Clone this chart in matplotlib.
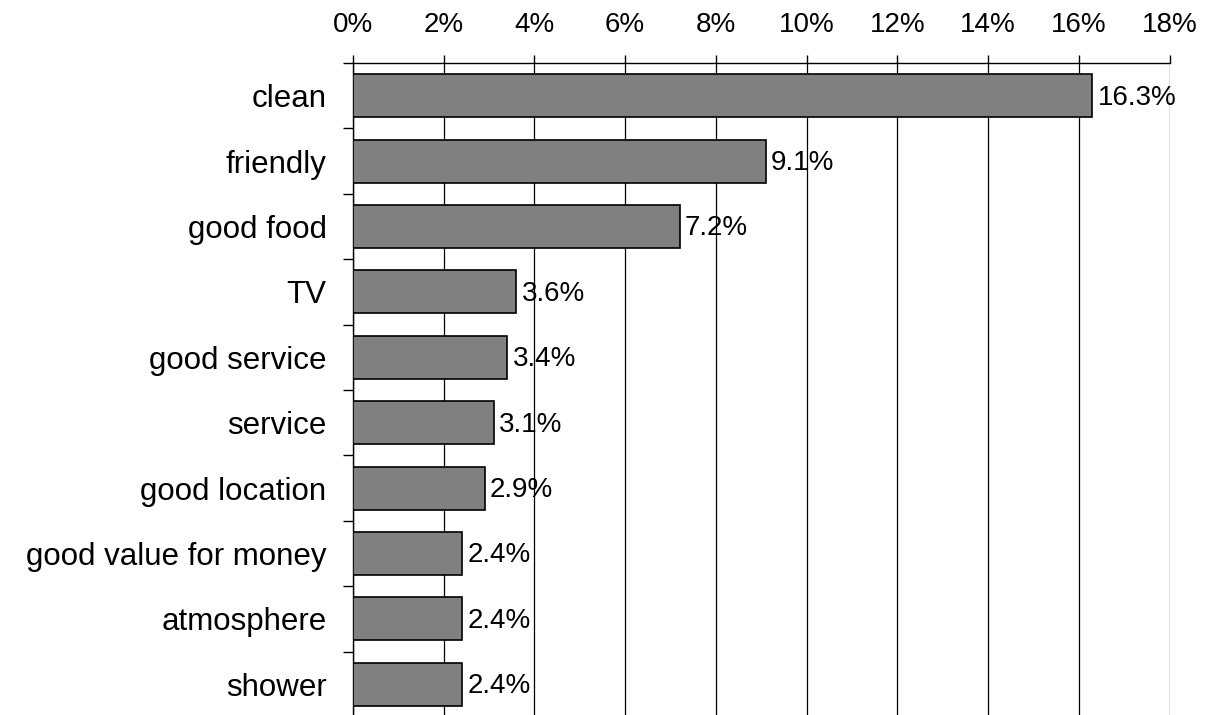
import matplotlib
matplotlib.use("Agg")
import matplotlib.pyplot as plt
from matplotlib.ticker import FixedLocator, PercentFormatter

categories = ["clean", "friendly", "good food", "TV", "good service", "service",
              "good location", "good value for money", "atmosphere", "shower"]
values = [16.3, 9.1, 7.2, 3.6, 3.4, 3.1, 2.9, 2.4, 2.4, 2.4]
value_labels = ["16.3%", "9.1%", "7.2%", "3.6%", "3.4%", "3.1%", "2.9%", "2.4%", "2.4%", "2.4%"]
x_ticks = [0, 2, 4, 6, 8, 10, 12, 14, 16, 18]

plt.rcParams['font.family'] = ['Liberation Sans', 'DejaVu Sans']

W, H = 1208, 715
fig = plt.figure(figsize=(W / 100, H / 100), dpi=100)
left, right = 353, 1169.5
top, bottom = 63, 715
ax = fig.add_axes([left / W, (H - bottom) / H, (right - left) / W, (bottom - top) / H])

pos = list(range(len(categories)))
ax.barh(pos, values, height=0.66, color="#808080", edgecolor="black", linewidth=1.2, zorder=3)
for p, v, lab in zip(pos, values, value_labels):
    ax.text(v + 0.12, p + 0.03, lab, va="center", ha="left", fontsize=20, zorder=4)

ax.set_xlim(0, 18)
spacing = 65.4
ax.set_ylim(-0.5 + (bottom - top) / spacing, -0.5)

ax.set_xticks(x_ticks)
ax.xaxis.set_major_formatter(PercentFormatter(decimals=0))
ax.xaxis.tick_top()
ax.tick_params(axis="x", which="major", direction="out", length=6, width=1, pad=12, labelsize=20)
ax.grid(axis="x", color="black", linewidth=0.9, zorder=1)

ax.set_yticks(pos)
ax.set_yticklabels(categories)
ax.yaxis.set_minor_locator(FixedLocator([p - 0.5 for p in pos] + [len(pos) - 0.5]))
ax.tick_params(axis="y", which="major", length=0, pad=19, labelsize=22.5)
ax.tick_params(axis="y", which="minor", direction="out", length=7, width=1)

for s in ["right", "bottom"]:
    ax.spines[s].set_visible(False)
ax.spines["left"].set_linewidth(1)
ax.spines["top"].set_linewidth(1)

fig.savefig("out.png", dpi=100)
